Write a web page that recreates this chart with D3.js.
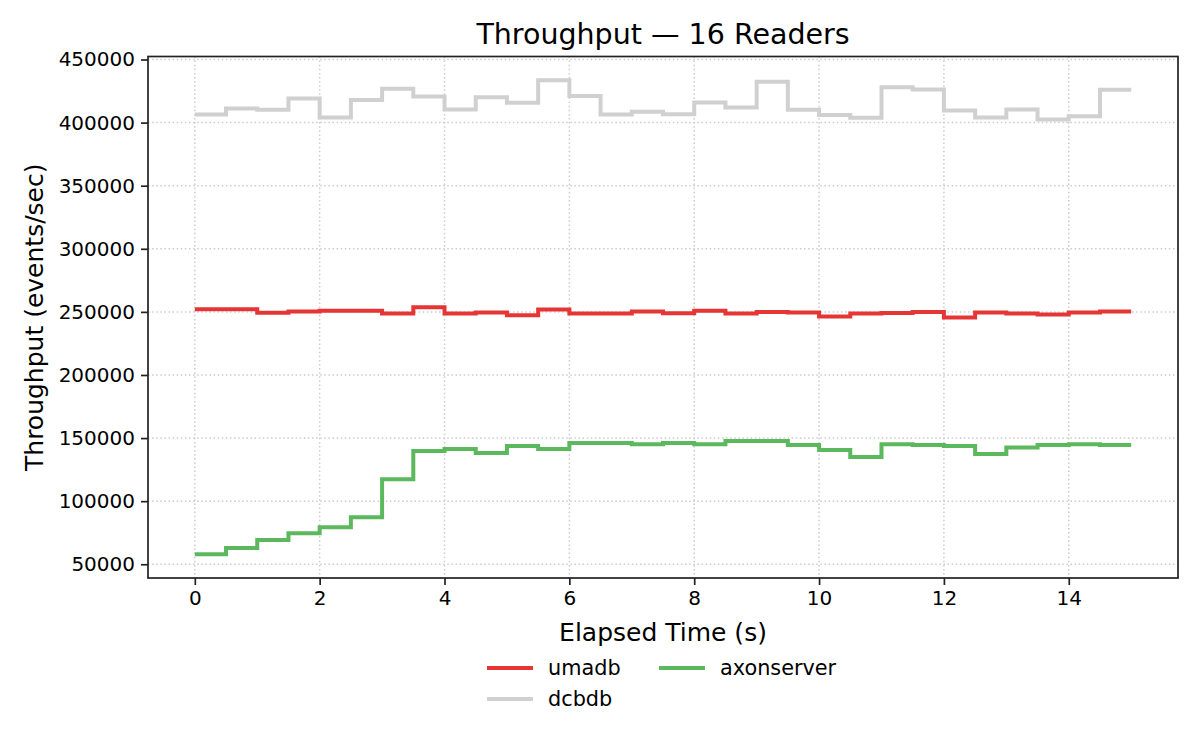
<!DOCTYPE html>
<html>
<head>
<meta charset="utf-8">
<script src="https://cdn.jsdelivr.net/npm/d3@7"></script>
<style>
  body { margin: 0; background: #fff; }
  svg text { font-family: "DejaVu Sans", sans-serif; fill: #000; }
</style>
</head>
<body>
<svg width="1200" height="750"></svg>
<script>
// elapsed time in seconds (one sample every 0.5 s)
var times = [0, 0.5, 1, 1.5, 2, 2.5, 3, 3.5, 4, 4.5, 5, 5.5, 6, 6.5, 7, 7.5,
             8, 8.5, 9, 9.5, 10, 10.5, 11, 11.5, 12, 12.5, 13, 13.5, 14, 14.5, 15];

// throughput per system (events/sec)
var umadb = [252000, 252000, 249300, 250300, 251000, 251000, 248700, 253700, 248700, 249500,
             247400, 251800, 248700, 248700, 250300, 249000, 251000, 248700, 250000, 249500,
             246300, 248700, 249200, 250000, 245500, 249500, 248700, 247900, 249500, 250300, 250300];
var dcbdb = [406500, 411200, 410100, 419100, 404100, 418000, 426800, 420700, 410400, 420000,
             415700, 433600, 421000, 406500, 408600, 406700, 416000, 412000, 432300, 410100,
             406000, 403800, 428100, 426300, 409600, 404100, 410400, 402500, 405100, 426000, 426000];
var axonserver = [57900, 62900, 69300, 74500, 79300, 87200, 117400, 139700, 141300, 138100,
                  143700, 141300, 146000, 146000, 145200, 146000, 145200, 147600, 147600, 144500,
                  140500, 135000, 145200, 144500, 143700, 137300, 142600, 144500, 145200, 144500, 144500];

var names = ["umadb", "dcbdb", "axonserver"];
var colors = ["#e53535", "#d0d0d0", "#5cb85c"];
var yTicks = [50000, 100000, 150000, 200000, 250000, 300000, 350000, 400000, 450000];
var xTicks = [0, 2, 4, 6, 8, 10, 12, 14];

var series = [umadb, dcbdb, axonserver];

var svg = d3.select("svg");
var pLeft = 148, pRight = 1178, pTop = 56.5, pBottom = 578;

// matplotlib-like 5% margins
function padded(ext) {
  var d = (ext[1] - ext[0]) * 0.05;
  return [ext[0] - d, ext[1] + d];
}
var allVals = d3.merge(series);
var x = d3.scaleLinear().domain(padded(d3.extent(times))).range([pLeft, pRight]);
var y = d3.scaleLinear().domain(padded(d3.extent(allVals))).range([pBottom, pTop]);

// grid
var grid = svg.append("g");
grid.selectAll("line.gx")
    .data(xTicks)
  .enter().append("line")
    .attr("x1", function(d) { return x(d); })
    .attr("x2", function(d) { return x(d); })
    .attr("y1", pTop).attr("y2", pBottom);
grid.selectAll("line.gy")
    .data(yTicks)
  .enter().append("line")
    .attr("x1", pLeft).attr("x2", pRight)
    .attr("y1", function(d) { return y(d); })
    .attr("y2", function(d) { return y(d); });
grid.selectAll("line")
    .style("stroke", "#cccccc")
    .style("stroke-width", 1.5)
    .style("stroke-dasharray", "1.5,2.6");

// series as step lines
var line = d3.line()
    .curve(d3.curveStepAfter)
    .x(function(d, i) { return x(times[i]); })
    .y(function(d) { return y(d); });

svg.selectAll("path.series")
    .data(series)
  .enter().append("path")
    .attr("class", "series")
    .attr("d", line)
    .style("fill", "none")
    .style("stroke", function(d, i) { return colors[i]; })
    .style("stroke-width", 4);

// axes
var xAxis = d3.axisBottom(x).tickValues(xTicks).tickSize(7).tickPadding(6).tickFormat(d3.format("d"));
var yAxis = d3.axisLeft(y).tickValues(yTicks).tickSize(7).tickPadding(6).tickFormat(d3.format("d"));

var gx = svg.append("g").attr("transform", "translate(0," + pBottom + ")").call(xAxis);
var gy = svg.append("g").attr("transform", "translate(" + pLeft + ",0)").call(yAxis);
[gx, gy].forEach(function(g) {
  g.select(".domain").remove();
  g.selectAll(".tick line").style("stroke", "#222").style("stroke-width", 1.7);
  g.selectAll(".tick text").style("font-size", "20px").style("font-family", "DejaVu Sans");
});

// frame
svg.append("rect")
    .attr("x", pLeft).attr("y", pTop)
    .attr("width", pRight - pLeft).attr("height", pBottom - pTop)
    .style("fill", "none").style("stroke", "#222").style("stroke-width", 1.7);

// title and labels
svg.append("text")
    .attr("x", (pLeft + pRight) / 2).attr("y", 44)
    .attr("text-anchor", "middle")
    .style("font-size", "28.5px")
    .text("Throughput \u2014 16 Readers");

svg.append("text")
    .attr("x", (pLeft + pRight) / 2).attr("y", 641)
    .attr("text-anchor", "middle")
    .style("font-size", "25px")
    .text("Elapsed Time (s)");

svg.append("text")
    .attr("transform", "translate(43," + ((pTop + pBottom) / 2) + ") rotate(-90)")
    .attr("text-anchor", "middle")
    .style("font-size", "25px")
    .text("Throughput (events/sec)");

// legend, two columns below the axis
var legendPos = [[487, 668], [487, 699], [659, 668]];
var lg = svg.selectAll("g.legend")
    .data(names)
  .enter().append("g")
    .attr("class", "legend")
    .attr("transform", function(d, i) { return "translate(" + legendPos[i][0] + "," + legendPos[i][1] + ")"; });
lg.append("line")
    .attr("x1", 0).attr("x2", 46).attr("y1", 0).attr("y2", 0)
    .style("stroke", function(d, i) { return colors[i]; })
    .style("stroke-width", 4);
lg.append("text")
    .attr("x", 61).attr("y", 7)
    .style("font-size", "20.8px")
    .text(function(d) { return d; });
</script>
</body>
</html>
